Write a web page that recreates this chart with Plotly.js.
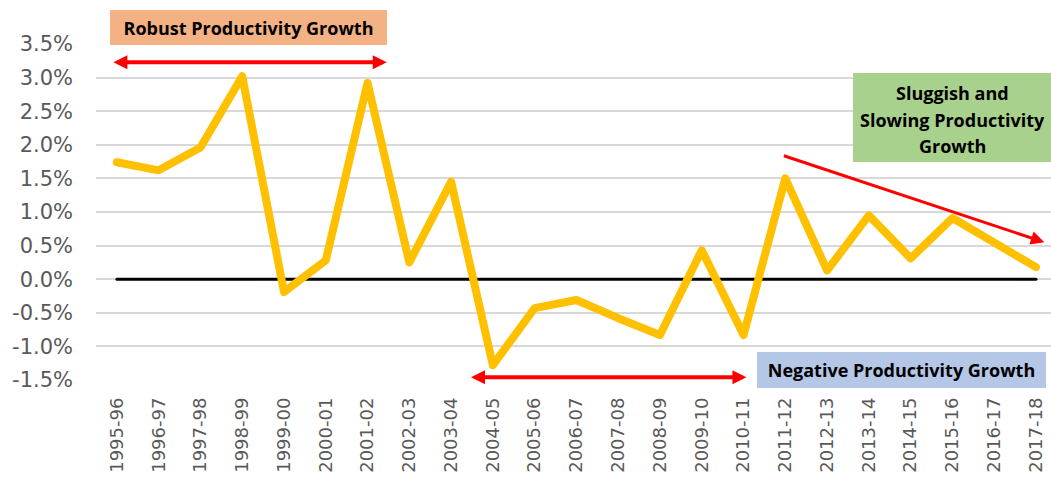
<!DOCTYPE html>
<html>
<head>
<meta charset="utf-8">
<script src="https://cdn.plot.ly/plotly-3.0.1.min.js"></script>
<style>
html,body{margin:0;padding:0;background:#fff;}
#chart{width:1051px;height:479px;}
.scatterlayer path.js-line{stroke-linejoin:round;stroke-linecap:round;}
</style>
</head>
<body>
<div id="chart"></div>
<script>
const categories = ["1995-96","1996-97","1997-98","1998-99","1999-00","2000-01","2001-02","2002-03","2003-04","2004-05","2005-06","2006-07","2007-08","2008-09","2009-10","2010-11","2011-12","2012-13","2013-14","2014-15","2015-16","2016-17","2017-18"];
const growth = [1.74,1.62,1.96,3.02,-0.19,0.28,2.92,0.25,1.45,-1.28,-0.43,-0.31,-0.58,-0.83,0.43,-0.83,1.50,0.13,0.95,0.31,0.91,0.55,0.18];
const baseline = categories.map(() => 0);
const yTickVals = [-1.5,-1.0,-0.5,0.0,0.5,1.0,1.5,2.0,2.5,3.0,3.5];
const yTickText = ["-1.5%","-1.0%","-0.5%","0.0%","0.5%","1.0%","1.5%","2.0%","2.5%","3.0%","3.5%"];
const sluggishLines = ["Sluggish and","Slowing Productivity","Growth"];

// plot area in pixels
const L = 96, T = 44, W = 955, H = 336;
const px = x => (x - L) / W;
const py = y => (T + H - y) / H;

const boxFont = {family: "Open Sans", size: 18, color: "#000", weight: "bold"};

const annotations = [
  {xref:"paper", yref:"paper", x: px(248.5), y: py(27.5), xanchor:"center", yanchor:"middle",
   text:"<b>Robust Productivity Growth</b>", showarrow:false, bgcolor:"#F4B183",
   width:277, height:35, borderpad:0, borderwidth:0, font: boxFont},
  {xref:"paper", yref:"paper", x: px(901.5), y: py(370), xanchor:"center", yanchor:"middle",
   text:"<b>Negative Productivity Growth</b>", showarrow:false, bgcolor:"#B4C7E7",
   width:289, height:36, borderpad:0, borderwidth:0, font: boxFont},
  {xref:"paper", yref:"paper", x: px(952), y: py(117.5), xanchor:"center", yanchor:"middle",
   text:" ", showarrow:false, bgcolor:"#A9D18E",
   width:198, height:89, borderpad:0, borderwidth:0, font: boxFont},
  // arrows
  {xref:"x", yref:"y", axref:"x", ayref:"y", x:6.46, y:3.23, ax:-0.12, ay:3.23,
   text:"", showarrow:true, arrowhead:2, arrowside:"end+start", arrowwidth:4, arrowsize:0.7, arrowcolor:"#FF0000"},
  {xref:"x", yref:"y", axref:"x", ayref:"y", x:15.07, y:-1.46, ax:8.44, ay:-1.46,
   text:"", showarrow:true, arrowhead:2, arrowside:"end+start", arrowwidth:4, arrowsize:0.7, arrowcolor:"#FF0000"},
  {xref:"x", yref:"y", axref:"x", ayref:"y", x:22.2, y:0.55, ax:15.93, ay:1.845,
   text:"", showarrow:true, arrowhead:2, arrowside:"end", arrowwidth:3, arrowsize:0.9, arrowcolor:"#FF0000"}
];
const lineYs = [93, 119.5, 146];
sluggishLines.forEach((t, i) => {
  annotations.push({xref:"paper", yref:"paper", x: px(952), y: py(lineYs[i]), xanchor:"center", yanchor:"middle",
    text:"<b>" + t + "</b>", showarrow:false, font: boxFont});
});

const data = [
  {type:"scatter", mode:"lines", x: categories, y: baseline, line:{color:"#000", width:3}, hoverinfo:"skip"},
  {type:"scatter", mode:"lines", x: categories, y: growth, line:{color:"#FFC000", width:8}}
];

const layout = {
  width:1051, height:479,
  margin:{l:L, r:1051 - L - W, t:T, b:479 - T - H, pad:0},
  paper_bgcolor:"#fff", plot_bgcolor:"#fff",
  showlegend:false,
  font:{family:"DejaVu Sans", color:"#595959"},
  xaxis:{type:"category", range:[-0.5, 22.36], showgrid:false, zeroline:false, showline:false,
         tickangle:-90, tickfont:{size:18, color:"#595959", family:"DejaVu Sans"}, ticks:"", ticklabelstandoff:13},
  yaxis:{range:[-1.5, 3.5], tickvals:yTickVals, ticktext:yTickText, showgrid:true, gridcolor:"#d9d9d9", gridwidth:2,
         zeroline:false, showline:false, ticks:"", tickfont:{size:21, color:"#595959", family:"DejaVu Sans"}, ticklabelstandoff:22},
  annotations: annotations
};

Plotly.newPlot("chart", data, layout, {displayModeBar:false, staticPlot:true});
</script>
</body>
</html>
